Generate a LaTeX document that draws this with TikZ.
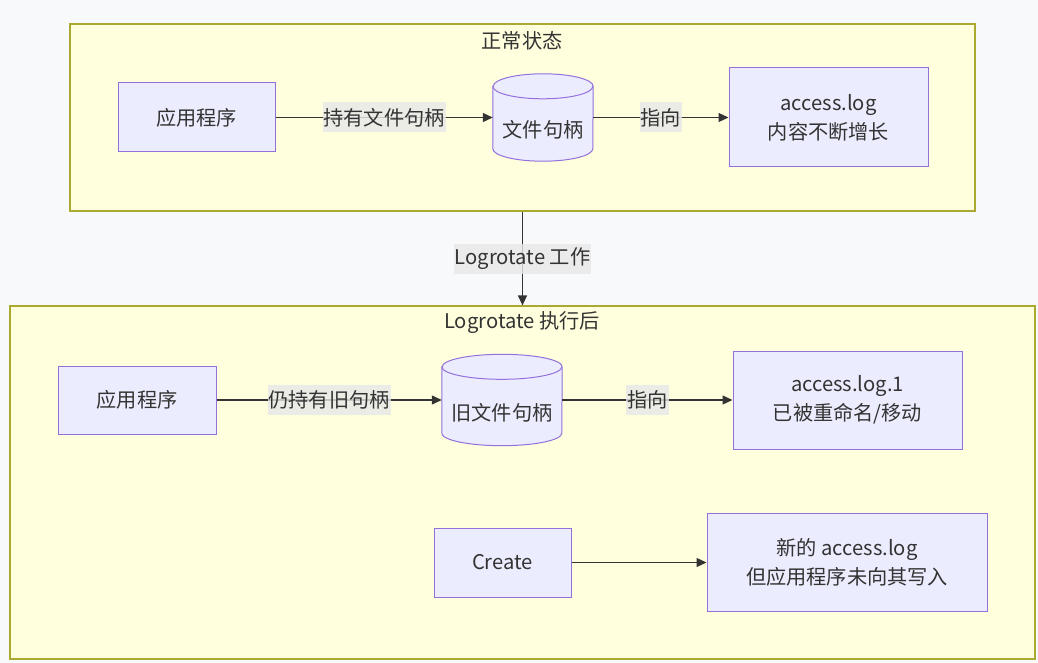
\documentclass[tikz,border=0pt]{standalone}
\usepackage{fontspec}
\setmainfont{Noto Sans CJK SC}
\usetikzlibrary{arrows.meta,calc}
\definecolor{bgc}{HTML}{F8F9FB}
\definecolor{clfill}{HTML}{FFFFDE}
\definecolor{cldraw}{HTML}{AAAA33}
\definecolor{nfill}{HTML}{ECECFF}
\definecolor{ndraw}{HTML}{9370DB}
\definecolor{edgec}{HTML}{333333}
\definecolor{lblbg}{HTML}{E8E8E8}
\definecolor{txt}{HTML}{333333}
\tikzset{
  every node/.style={text=txt, font=\fontsize{20.2}{29}\selectfont},
  cluster/.style={draw=cldraw, fill=clfill, line width=1.2pt, inner sep=0pt},
  box/.style={draw=ndraw, fill=nfill, line width=1pt, align=center, inner sep=0pt},
  cylbox/.style={inner sep=0pt, draw=none},
  cylshape/.style={draw=ndraw, fill=nfill, line width=1pt},
  conn/.style={draw=edgec, line width=1.2pt, -{Triangle[length=10pt,width=9pt]}},
  elabel/.style={fill=lblbg, fill opacity=0.8, text opacity=1, inner xsep=1pt, inner ysep=0pt, minimum height=30pt},
}
\newcommand\dbnode[6]{%
  \node[cylbox, minimum width=2*#4pt, minimum height=#5pt] (#1) at (#2,#3) {};
  \path[cylshape] ($(#1.north west)+(0,12.5)$) -- ($(#1.south west)+(0,-12.5)$)
     arc[start angle=180,end angle=360,x radius=#4pt,y radius=12.5pt]
     -- ($(#1.north east)+(0,12.5)$)
     arc[start angle=0,end angle=180,x radius=#4pt,y radius=12.5pt] -- cycle;
  \draw[cylshape, fill=none] ($(#1.north west)+(0,12.5)$)
     arc[start angle=180,end angle=360,x radius=#4pt,y radius=12.5pt];
  \node (#1t) at ($(#1.center)+(0,12.5)$) {#6};
}
\begin{document}
\begin{tikzpicture}[x=1pt,y=-1pt]
\useasboundingbox (0,0) rectangle (1038,663);
\fill[bgc] (0,0) rectangle (1038,663);

% clusters
\node[cluster, minimum width=905pt, minimum height=187pt] (c1) at (522.5,117.5) {};
\node (t1) at (522,41) {正常状态};
\node[cluster, minimum width=1025pt, minimum height=353pt] (c2) at (522.5,482.5) {};
\node (t2) at (522,323) {Logrotate 执行后};

% top cluster nodes
\node[box, minimum width=157pt, minimum height=69pt] (app1) at (196.5,117.5) {应用程序};
\dbnode{fh1}{543}{117.5}{50}{87}{文件句柄}
\node[box, minimum width=199pt, minimum height=99pt] (log1) at (828.5,117.5) {access.log\\内容不断增长};

% bottom cluster nodes
\node[box, minimum width=158pt, minimum height=68pt] (app2) at (137,400) {应用程序};
\dbnode{fh2}{502}{400}{60}{91}{旧文件句柄}
\node[box, minimum width=229pt, minimum height=98pt] (log2) at (847.5,400) {access.log.1\\已被重命名/移动};
\node[box, minimum width=137pt, minimum height=69pt] (create) at (502.5,562.5) {Create};
\node[box, minimum width=280pt, minimum height=98pt] (newlog) at (847,562.5) {新的 access.log\\但应用程序未向其写入};

% connectors
\draw[conn] (app1) -- node[elabel] (l1) {持有文件句柄} (fh1);
\draw[conn] (fh1) -- node[elabel] (l2) {指向} (log1);
\draw[conn] (c1.south) -- node[elabel] (l3) {Logrotate 工作} (c2.north);
\draw[conn] (app2) -- node[elabel] (l4) {仍持有旧句柄} (fh2);
\draw[conn] (fh2) -- node[elabel] (l5) {指向} (log2);
\draw[conn] (create) -- (newlog);
\end{tikzpicture}
\end{document}
